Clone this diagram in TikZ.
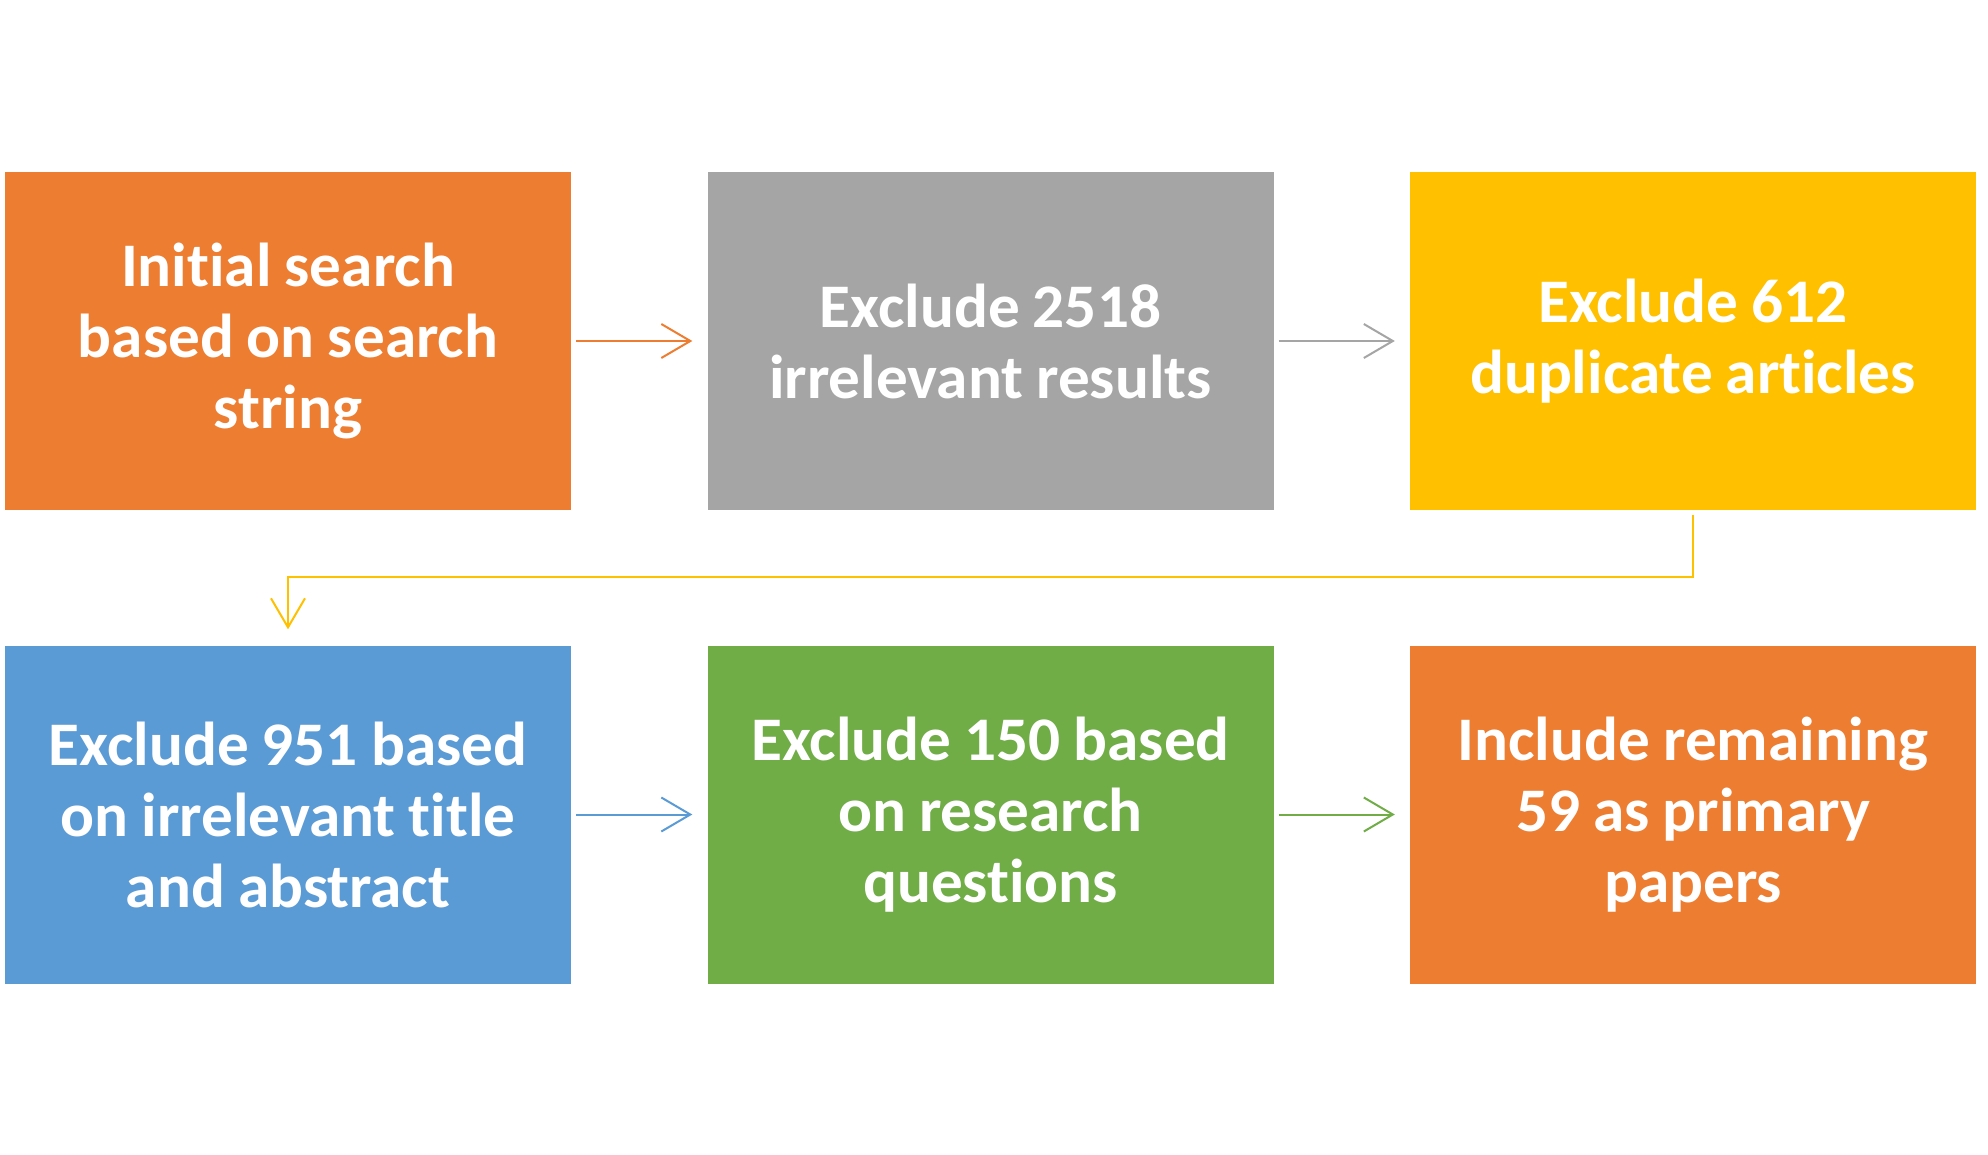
\documentclass[tikz,border=0pt]{standalone}
\usepackage{fontspec}
\setmainfont{Carlito}[Ligatures=NoCommon, FakeStretch=1.02]
\usetikzlibrary{arrows.meta}
\definecolor{cOrange}{HTML}{ED7D31}
\definecolor{cGray}{HTML}{A5A5A5}
\definecolor{cYellow}{HTML}{FFC000}
\definecolor{cBlue}{HTML}{5B9BD5}
\definecolor{cGreen}{HTML}{70AD47}
\newcommand\tightwords{\spaceskip=0.21em\relax}
\tikzset{
  stepbox/.style={fill=#1, draw=none, minimum width=566pt, minimum height=338pt,
    inner sep=0pt, text width=540pt, align=center, text=white,
    font=\fontsize{62}{71}\selectfont\bfseries,
    execute at begin node=\tightwords},
  link/.style={draw=#1, line width=2pt,
    -{Straight Barb[length=29pt, width=34pt, line width=2pt]},
    shorten <=5pt, shorten >=15pt}
}
\begin{document}
\begin{tikzpicture}[x=1pt,y=-1pt]
\useasboundingbox[fill=white] (0,0) rectangle (1988,1155);
\node[stepbox=cOrange] (a) at (288,341) {Initial search\\based on search\\string};
\node[stepbox=cGray] (b) at (990.5,341) {Exclude 2518\\irrelevant results};
\node[stepbox=cYellow] (c) at (1693,341) {Exclude 612\\duplicate articles};
\node[stepbox=cBlue] (d) at (288,814.5) {Exclude 951 based\\on irrelevant title\\and abstract};
\node[stepbox=cGreen] (e) at (990.5,814.5) {Exclude 150 based\\on research\\questions};
\node[stepbox=cOrange] (f) at (1693,814.5) {Include remaining\\59 as primary\\papers};
\draw[link=cOrange] (a) -- (b);
\draw[link=cGray] (b) -- (c);
\draw[link=cBlue] (d) -- (e);
\draw[link=cGreen] (e) -- (f);
\draw[link=cYellow, shorten >=16pt] (c.south) -- ++(0,67) -| (d.north);
\end{tikzpicture}
\end{document}
